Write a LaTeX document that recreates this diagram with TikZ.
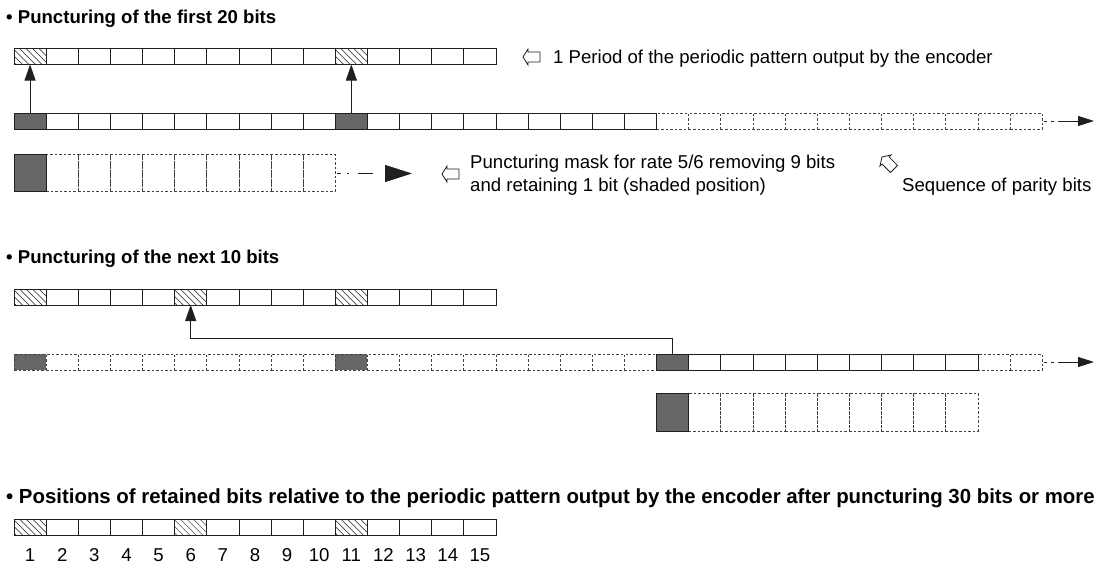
\documentclass[tikz,border=0pt]{standalone}
\usepackage{fontspec}
\setmainfont{Liberation Sans}
\usetikzlibrary{arrows.meta}
\definecolor{fillgray}{gray}{0.4}
\definecolor{edge}{gray}{0.12}

% one bit cell: #1 style, #2 name, #3 index along the row, #4 vertical centre
\newcommand\bitcell[4]{%
  \pgfmathsetmacro\cx{14+(#3-0.5)*32.13}%
  \node[#1] (#2) at (\cx,#4) {};}

\begin{document}
\begin{tikzpicture}[x=1pt,y=-1pt,
  bit/.style={draw=edge, line width=0.8pt, minimum width=32.13pt,
    minimum height=16pt, inner sep=0pt, outer sep=0pt},
  tallbit/.style={bit, minimum height=37pt},
  ghost/.style={draw=edge!85, dash pattern=on 2.5pt off 2pt},
  dark/.style={fill=fillgray},
  hatched/.style={path picture={
    \foreach \k in {-14,-7.5,...,33}
      \draw[line width=0.5pt, edge]
        ([xshift=\k pt]path picture bounding box.north west) -- ++(18pt,-18pt);}},
  heading/.style={anchor=base west, inner sep=0pt,
    font=\bfseries\fontsize{18.6}{22}\selectfont},
  note/.style={anchor=base west, inner sep=0pt, font=\fontsize{18.6}{22}\selectfont},
  num/.style={anchor=base, inner sep=0pt, font=\fontsize{18.6}{22}\selectfont},
  uplink/.style={line width=0.8pt, edge, -{Triangle[length=16pt,width=11pt]}},
  tail/.style={line width=0.8pt, edge,
    dash pattern=on 0pt off 2pt on 3pt off 4pt on 3pt off 4pt on 40pt off 0pt,
    -{Triangle[length=16pt,width=10pt]}},
  masktail/.style={line width=0.8pt, edge,
    dash pattern=on 0pt off 2pt on 4pt off 6pt on 1.5pt off 9pt on 15pt off 13pt,
    -{Triangle[length=27pt,width=17pt]}},
  hollow/.pic={\draw[line width=0.8pt, edge, fill=white]
    (0,0) -- (5pt,8pt) -- (5pt,5pt) -- (17pt,5pt) -- (17pt,-5pt)
    -- (5pt,-5pt) -- (5pt,-8pt) -- cycle;}
]
\useasboundingbox (0,0) rectangle (1101,565);

% ---------------- first 20 bits ----------------
\node[heading] (h1) at (6,23) {• Puncturing of the first 20 bits};

% one period of the encoder output
\foreach \i in {2,3,4,5,6,7,8,9,10,12,13,14,15} {\bitcell{bit}{t1c\i}{\i}{56.5}}
\foreach \i in {1,11} {\bitcell{bit,hatched}{t1c\i}{\i}{56.5}}

% parity sequence
\foreach \i in {21,...,32} {\bitcell{bit,ghost}{s1c\i}{\i}{121}}
\foreach \i in {2,3,4,5,6,7,8,9,10,12,13,14,15,16,17,18,19,20} {\bitcell{bit}{s1c\i}{\i}{121}}
\foreach \i in {1,11} {\bitcell{bit,dark}{s1c\i}{\i}{121}}

% puncturing mask
\foreach \i in {2,...,10} {\bitcell{tallbit,ghost}{m1c\i}{\i}{172.5}}
\bitcell{tallbit,dark}{m1c1}{1}{172.5}

\draw[uplink] (s1c1.north) -- (t1c1.south);
\draw[uplink] (s1c11.north) -- (t1c11.south);

\coordinate (s1end) at (1094,121);
\draw[tail] (s1c32.east) -- (s1end);
\coordinate (m1end) at (412,173.5);
\draw[masktail] (m1c10.east |- m1end) -- (m1end);

\pic at (523,57) {hollow};
\node[note] (period) at (553,63) {1 Period of the periodic pattern output by the encoder};
\pic at (442,174) {hollow};
\node[note] (maskA) at (470,168) {Puncturing mask for rate 5/6 removing 9 bits};
\node[note] (maskB) at (470,191) {and retaining 1 bit (shaded position)};
\pic[rotate=-45] at (882,157) {hollow};
\node[note] (parity) at (902,191) {Sequence of parity bits};

% ---------------- next 10 bits ----------------
\node[heading] (h2) at (6,263) {• Puncturing of the next 10 bits};

\foreach \i in {2,3,4,5,7,8,9,10,12,13,14,15} {\bitcell{bit}{t2c\i}{\i}{297}}
\foreach \i in {1,6,11} {\bitcell{bit,hatched}{t2c\i}{\i}{297}}

\foreach \i in {2,3,4,5,6,7,8,9,10,12,13,14,15,16,17,18,19,20,31,32} {\bitcell{bit,ghost}{s2c\i}{\i}{362}}
\foreach \i in {1,11} {\bitcell{bit,ghost,dark}{s2c\i}{\i}{362}}
\foreach \i in {22,...,30} {\bitcell{bit}{s2c\i}{\i}{362}}
\bitcell{bit,dark}{s2c21}{21}{362}

\foreach \i in {22,...,30} {\bitcell{bit,ghost,minimum height=38pt}{m2c\i}{\i}{412}}
\bitcell{bit,dark,minimum height=38pt}{m2c21}{21}{412}

\draw[uplink] (s2c21.north) -- ++(0,-16) -| (t2c6.south);

\coordinate (s2end) at (1094,362);
\draw[tail] (s2c32.east) -- (s2end);

% ---------------- retained positions ----------------
\node[heading, font=\bfseries\fontsize{20.4}{24}\selectfont] (h3) at (6,503)
  {• Positions of retained bits relative to the periodic pattern output by the encoder after puncturing 30 bits or more};

\foreach \i in {2,3,4,5,7,8,9,10,12,13,14,15} {\bitcell{bit}{r3c\i}{\i}{527}}
\foreach \i in {1,6,11} {\bitcell{bit,hatched}{r3c\i}{\i}{527}}
\foreach \i in {1,...,15} {
  \pgfmathsetmacro\cx{14+(\i-0.5)*32.13}
  \node[num] (n\i) at (\cx,561) {\i};
}
\end{tikzpicture}
\end{document}
